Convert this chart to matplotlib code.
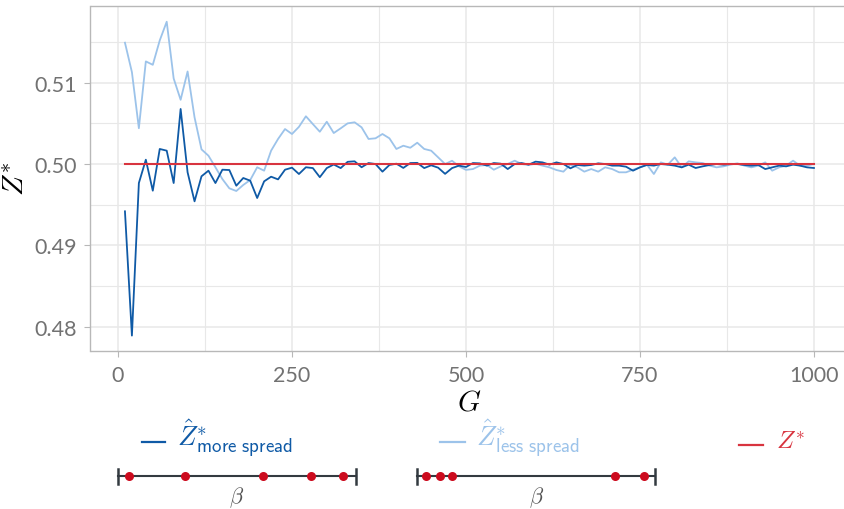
import numpy as np
import matplotlib
matplotlib.use("Agg")
import matplotlib.pyplot as plt
from matplotlib.ticker import FixedLocator

plt.rcParams['mathtext.fontset'] = 'cm'

# ---------------- data ----------------
G = list(range(10, 1001, 10))

z_more = [
    0.49418, 0.4789, 0.49766, 0.50053, 0.49672, 0.50185, 0.50164, 0.49766, 0.50677, 0.49898,
    0.49541, 0.49849, 0.49918, 0.49766, 0.4993, 0.49926, 0.49733, 0.49828, 0.49795, 0.49582,
    0.49787, 0.49844, 0.49811, 0.4993, 0.49955, 0.49877, 0.4996, 0.4995, 0.49838, 0.4995,
    0.49994, 0.4995, 0.50027, 0.50033, 0.4996, 0.50012, 0.5000, 0.49906, 0.49988, 0.50004,
    0.49952, 0.50012, 0.50014, 0.4995, 0.49984, 0.49955, 0.49879, 0.4995, 0.4998, 0.49963,
    0.50012, 0.50008, 0.4998, 0.50012, 0.50004, 0.49938, 0.5000, 0.50012, 0.49992, 0.50029,
    0.5002, 0.49992, 0.5002, 0.5000, 0.49947, 0.49988, 0.4998, 0.49988, 0.50008, 0.5000,
    0.4998, 0.4998, 0.49967, 0.49918, 0.49959, 0.49988, 0.4998, 0.5000, 0.49992, 0.4998,
    0.49959, 0.49992, 0.49951, 0.49971, 0.49988, 0.5000, 0.49992, 0.5000, 0.5000, 0.49988,
    0.4998, 0.49988, 0.49938, 0.49959, 0.4998, 0.49971, 0.49992, 0.4998, 0.49959, 0.49951,
]

z_less = [
    0.51492, 0.5113, 0.5044, 0.51262, 0.5122, 0.5152, 0.5175, 0.51052, 0.5079, 0.51138,
    0.50574, 0.5018, 0.50102, 0.4996, 0.49815, 0.49701, 0.49668, 0.49742, 0.49803, 0.4996,
    0.49918, 0.50164, 0.50308, 0.5043, 0.50369, 0.50457, 0.50587, 0.50491, 0.50397, 0.5052,
    0.50381, 0.50439, 0.505, 0.50513, 0.50451, 0.50308, 0.50316, 0.50369, 0.50316, 0.50185,
    0.50225, 0.502, 0.50262, 0.50185, 0.50164, 0.50082, 0.5000, 0.5004, 0.49971, 0.49928,
    0.49938, 0.4998, 0.49988, 0.4993, 0.49971, 0.5000, 0.50041, 0.5000, 0.49988, 0.50004,
    0.4998, 0.49959, 0.49926, 0.49906, 0.49992, 0.49959, 0.49906, 0.49938, 0.49906, 0.49959,
    0.49938, 0.49898, 0.49898, 0.4993, 0.49959, 0.49992, 0.49877, 0.5002, 0.49992, 0.50082,
    0.49959, 0.50033, 0.5002, 0.50012, 0.4998, 0.49959, 0.49971, 0.49992, 0.50008, 0.4998,
    0.49959, 0.4998, 0.5002, 0.49918, 0.49959, 0.4998, 0.50041, 0.4998, 0.4998, 0.5000,
]

z_true = [0.5] * len(G)

beta_more = [0.046, 0.28, 0.611, 0.813, 0.945]
beta_less = [0.037, 0.097, 0.147, 0.833, 0.955]

x_ticks = [0, 250, 500, 750, 1000]
y_ticks = [0.48, 0.49, 0.50, 0.51]
y_ticklabels = ["0.48", "0.49", "0.50", "0.51"]

label_more = r"$\hat{Z}^{*}_{\mathsf{more\ spread}}$"
label_less = r"$\hat{Z}^{*}_{\mathsf{less\ spread}}$"
label_true = r"$Z^{*}$"

# ---------------- style ----------------
C_DARK = "#0f5aa6"
C_LIGHT = "#9cc3ea"
C_RED = "#d8343f"
C_DOT = "#cc0b1e"
C_GRID = "#e8e8e8"
C_BORDER = "#b8b8b8"
C_TICKLAB = "#727272"
TICKFONT = "Lato"

W, H = 845, 510
fig = plt.figure(figsize=(W / 100, H / 100), dpi=100)

def px_rect(x0, y0, x1, y1):
    return [x0 / W, 1 - y1 / H, (x1 - x0) / W, (y1 - y0) / H]

ax = fig.add_axes(px_rect(90.5, 6.7, 848.4, 351.7))
ax.set_xlim(-39.5, 1049.5)
ax.set_ylim(0.47704, 0.51947)

ax.xaxis.set_major_locator(FixedLocator(x_ticks))
ax.xaxis.set_minor_locator(FixedLocator([125, 375, 625, 875]))
ax.yaxis.set_major_locator(FixedLocator(y_ticks))
ax.yaxis.set_minor_locator(FixedLocator([0.485, 0.495, 0.505, 0.515]))
ax.set_yticklabels(y_ticklabels)
ax.set_xticklabels([str(v) for v in x_ticks])

ax.grid(which='major', color=C_GRID, lw=1.1)
ax.grid(which='minor', color=C_GRID, lw=0.8)
ax.set_axisbelow(True)
for s in ax.spines.values():
    s.set_color(C_BORDER)
    s.set_linewidth(1.0)
ax.tick_params(which='major', length=4, width=0.8, color=C_BORDER,
               labelcolor=C_TICKLAB, labelsize=15.5, pad=6)
ax.tick_params(which='minor', length=0)
for lab in ax.get_xticklabels() + ax.get_yticklabels():
    lab.set_fontfamily(TICKFONT)

ax.plot(G, z_less, color=C_LIGHT, lw=1.3, zorder=3)
ax.plot(G, z_more, color=C_DARK, lw=1.3, zorder=4)
ax.plot(G, z_true, color=C_RED, lw=1.5, zorder=5)

ax.set_xlabel(r"$G$", fontsize=21, labelpad=2)
ax.set_ylabel(r"$Z^{*}$", fontsize=21, labelpad=3)

# ---------------- legend area ----------------
lay = fig.add_axes([0, 0, 1, 1], zorder=-1)
lay.set_xlim(0, W)
lay.set_ylim(H, 0)
lay.axis('off')

def legend_entry(x_line0, x_line1, x_text, y, color, label, size):
    lay.plot([x_line0, x_line1], [y, y], color=color, lw=1.6)
    lay.text(x_text, y + 3, label, color=color, fontsize=size,
             ha='left', va='baseline')

legend_entry(142, 165, 177, 443, C_DARK, label_more, 19.5)
legend_entry(440, 465, 476, 443, C_LIGHT, label_less, 19.5)
legend_entry(739, 763, 776, 446, C_RED, label_true, 18)

def number_line(x0, x1, betas):
    nax = fig.add_axes(px_rect(x0, 467, x1, 487))
    nax.set_xlim(0, 1)
    nax.set_ylim(-1, 1)
    nax.axis('off')
    nax.plot([0, 1], [0, 0], color="#333a40", lw=1.5, zorder=1, clip_on=False)
    nax.plot([0, 0], [-0.75, 0.75], color="#333a40", lw=1.8, clip_on=False)
    nax.plot([1, 1], [-0.75, 0.75], color="#333a40", lw=1.8, clip_on=False)
    nax.plot(betas, [0] * len(betas), 'o', color=C_DOT, ms=6.5, mec='none',
             zorder=3, clip_on=False)
    lay.text((x0 + x1) / 2, 503, r"$\beta$", color="#555555", fontsize=16,
             ha='center', va='baseline')

number_line(118.3, 355.7, beta_more)
number_line(417.3, 655.0, beta_less)

fig.savefig("out.png", dpi=100)
